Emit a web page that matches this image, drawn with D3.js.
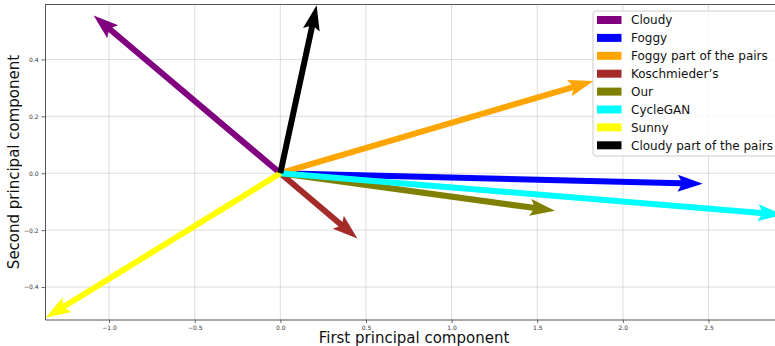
<!DOCTYPE html>
<html>
<head>
<meta charset="utf-8">
<script src="https://cdn.jsdelivr.net/npm/d3@7"></script>
<style>
  body { margin: 0; background: #fff; }
  svg { display: block; font-family: "DejaVu Sans", sans-serif; }
  .tick text { fill: #333; }
</style>
</head>
<body>
<svg id="chart"></svg>
<script>
// arrow data (first / second principal component of each direction)
const names = ["Cloudy", "Foggy", "Foggy part of the pairs", "Koschmieder\u2019s", "Our", "CycleGAN", "Sunny", "Cloudy part of the pairs"];
const colors = ["purple", "blue", "orange", "brown", "olive", "cyan", "yellow", "black"];
const pc1 = [-1.09, 2.466, 1.828, 0.45, 1.604, 2.935, -1.37, 0.212];
const pc2 = [0.554, -0.037, 0.324, -0.229, -0.132, -0.146, -0.508, 0.59];
const xTicks = [-1.0, -0.5, 0.0, 0.5, 1.0, 1.5, 2.0, 2.5];
const yTicks = [-0.4, -0.2, 0.0, 0.2, 0.4];

const width = 775, height = 346;
const margin = { top: 4.5, right: -8, bottom: 26.5, left: 45 };
const innerW = width - margin.left - margin.right;
const innerH = height - margin.top - margin.bottom;

const svg = d3.select("#chart").attr("width", width).attr("height", height);
const g = svg.append("g").attr("transform", `translate(${margin.left},${margin.top})`);

const x = d3.scaleLinear().domain([-1.374, 2.935]).range([0, innerW]);
const y = d3.scaleLinear().domain([-0.514, 0.593]).range([innerH, 0]);

const fmt = v => d3.format(".1f")(v).replace("-", "\u2212");

// grid
g.append("g").selectAll("line").data(xTicks).join("line")
  .attr("x1", d => x(d)).attr("x2", d => x(d)).attr("y1", 0).attr("y2", innerH)
  .attr("stroke", "#b0b0b0").attr("stroke-opacity", 0.55).attr("stroke-width", 0.8);
g.append("g").selectAll("line").data(yTicks).join("line")
  .attr("y1", d => y(d)).attr("y2", d => y(d)).attr("x1", 0).attr("x2", innerW)
  .attr("stroke", "#b0b0b0").attr("stroke-opacity", 0.55).attr("stroke-width", 0.8);

// axes
const xAxis = d3.axisBottom(x).tickValues(xTicks).tickFormat(fmt).tickSize(3.5).tickPadding(3).tickSizeOuter(0);
const yAxis = d3.axisLeft(y).tickValues(yTicks).tickFormat(fmt).tickSize(3.5).tickPadding(3).tickSizeOuter(0);
const xg = g.append("g").attr("transform", `translate(0,${innerH})`).call(xAxis);
const yg = g.append("g").call(yAxis);
[xg, yg].forEach(a => {
  a.selectAll("text").attr("font-size", 6).attr("font-family", "DejaVu Sans");
  a.selectAll(".tick line").attr("stroke", "#444").attr("stroke-width", 0.8);
  a.select(".domain").attr("stroke", "#555").attr("stroke-width", 1);
});
// top spine
g.append("line").attr("x1", 0).attr("x2", innerW).attr("y1", 0).attr("y2", 0)
  .attr("stroke", "#555").attr("stroke-width", 1);

// arrows
const shaftW = 6, headW = 17, headL = 25, overhang = 3;
function arrowPath(x0, y0, x1, y1) {
  const dx = x1 - x0, dy = y1 - y0;
  const len = Math.hypot(dx, dy);
  const ux = dx / len, uy = dy / len, nx = -uy, ny = ux;
  const p = (a, b) => [x0 + ux * a + nx * b, y0 + uy * a + ny * b];
  const pts = [
    p(0, shaftW / 2), p(len - headL + overhang, shaftW / 2), p(len - headL, headW / 2),
    p(len, 0),
    p(len - headL, -headW / 2), p(len - headL + overhang, -shaftW / 2), p(0, -shaftW / 2)
  ];
  return "M" + pts.map(q => q.join(",")).join("L") + "Z";
}
const arrows = names.map((n, i) => ({ name: n, color: colors[i], a: pc1[i], b: pc2[i] }));
g.append("g").selectAll("path").data(arrows).join("path")
  .attr("d", d => arrowPath(x(0), y(0), x(d.a), y(d.b)))
  .attr("fill", d => d.color);

// axis titles
svg.append("text").attr("x", 414).attr("y", 343)
  .attr("text-anchor", "middle").attr("font-size", 15).attr("fill", "#111")
  .text("First principal component");
svg.append("text").attr("transform", `translate(19,${margin.top + innerH / 2}) rotate(-90)`)
  .attr("text-anchor", "middle").attr("font-size", 15).attr("fill", "#111")
  .text("Second principal component");

// legend
const lg = svg.append("g").attr("transform", "translate(593,11)");
lg.append("rect").attr("width", 200).attr("height", 145).attr("rx", 3)
  .attr("fill", "white").attr("fill-opacity", 0.8).attr("stroke", "#ccc").attr("stroke-width", 1);
const rows = lg.selectAll("g.row").data(arrows).join("g").attr("class", "row")
  .attr("transform", (d, i) => `translate(0,${9 + i * 17.9})`);
rows.append("rect").attr("x", 4).attr("y", -4).attr("width", 24.5).attr("height", 8).attr("fill", d => d.color);
rows.append("text").attr("x", 38).attr("y", 0).attr("dy", "0.35em")
  .attr("font-size", 12).attr("fill", "#111").text(d => d.name);
</script>
</body>
</html>
